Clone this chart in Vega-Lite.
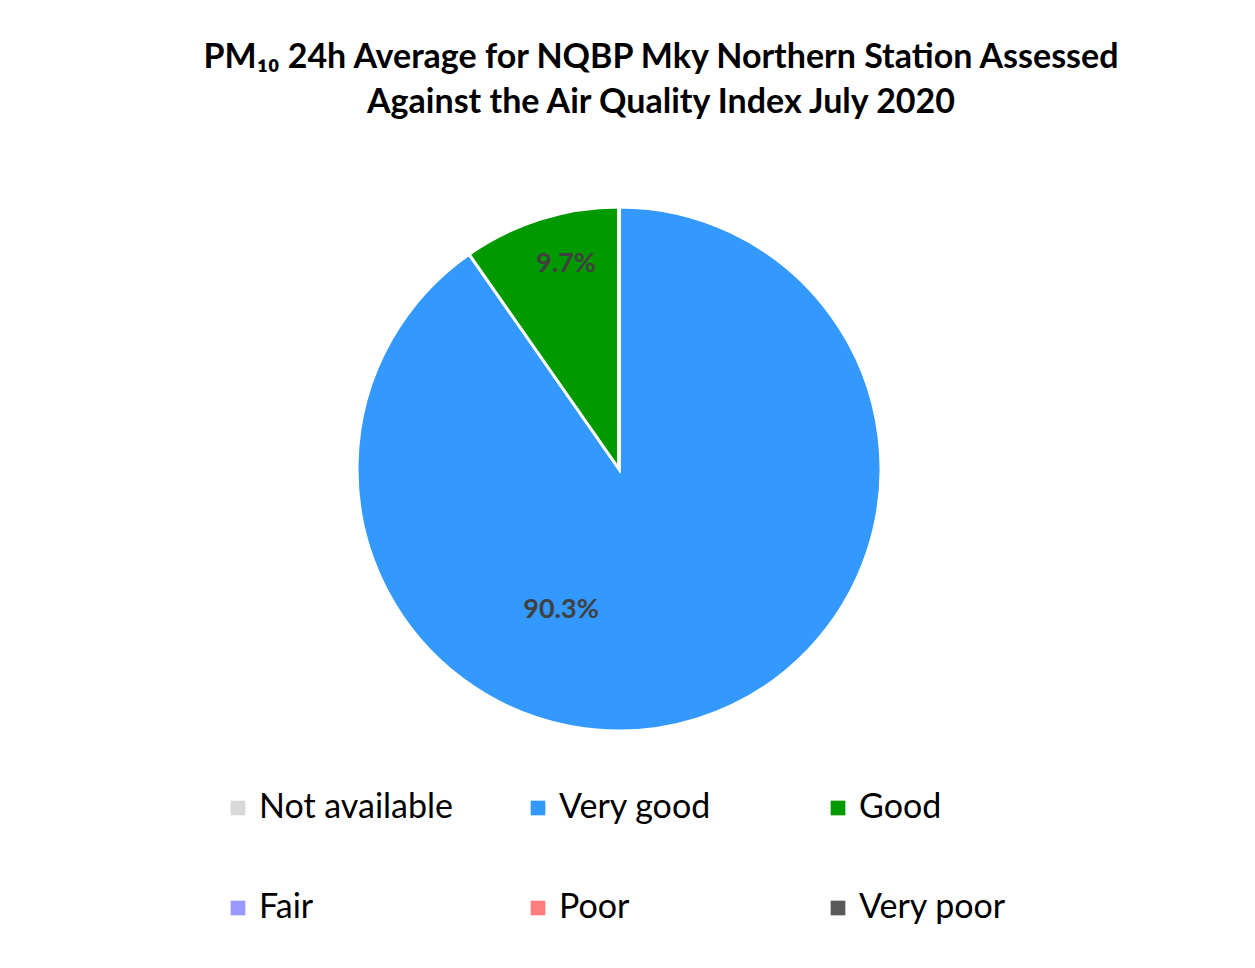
{
  "$schema": "https://vega.github.io/schema/vega-lite/v6.json",
  "width": 1238,
  "height": 678,
  "autosize": {"type": "none"},
  "padding": {"left": 0, "top": 130, "right": 17, "bottom": 160},
  "background": "white",
  "config": {"view": {"stroke": null}},
  "title": {
    "text": ["PM₁₀ 24h Average for NQBP Mky Northern Station Assessed", "Against the Air Quality Index July 2020"],
    "font": "Lato",
    "fontSize": 34,
    "fontWeight": "bold",
    "color": "black",
    "lineHeight": 45,
    "anchor": "middle",
    "dx": 42,
    "offset": 10
  },
  "data": {
    "values": [
      {"category": "Not available", "percent": 0, "rank": 1, "label": ""},
      {"category": "Very good", "percent": 90.3, "rank": 2, "label": "90.3%"},
      {"category": "Good", "percent": 9.7, "rank": 3, "label": "9.7%"},
      {"category": "Fair", "percent": 0, "rank": 4, "label": ""},
      {"category": "Poor", "percent": 0, "rank": 5, "label": ""},
      {"category": "Very poor", "percent": 0, "rank": 6, "label": ""}
    ]
  },
  "layer": [
    {
      "mark": {"type": "arc", "outerRadius": 262, "stroke": "white", "strokeWidth": 3},
      "encoding": {
        "theta": {"field": "percent", "type": "quantitative", "stack": true},
        "order": {"field": "rank", "type": "quantitative"},
        "color": {
          "field": "category",
          "type": "nominal",
          "scale": {
            "domain": ["Not available", "Very good", "Good", "Fair", "Poor", "Very poor"],
            "range": ["#d9d9d9", "#3399ff", "#009900", "#9999ff", "#ff7f7f", "#595959"]
          },
          "legend": {
            "orient": "none",
            "legendX": 221,
            "legendY": 661,
            "direction": "horizontal",
            "columns": 3,
            "title": null,
            "symbolType": "square",
            "symbolSize": 215,
            "symbolStrokeWidth": 0,
            "labelFont": "Lato",
            "labelFontSize": 34,
            "labelColor": "black",
            "labelLimit": 400,
            "labelOffset": 4,
            "columnPadding": 67,
            "rowPadding": 66,
            "gridAlign": "all",
            "padding": 0
          }
        }
      }
    },
    {
      "mark": {"type": "text", "radius": 152, "thetaOffset": 0.696, "font": "Lato", "fontWeight": "bold", "fontSize": 27, "color": "#404040"},
      "encoding": {
        "theta": {"field": "percent", "type": "quantitative", "stack": true},
        "order": {"field": "rank", "type": "quantitative"},
        "detail": {"field": "category", "type": "nominal"},
        "text": {"field": "label", "type": "nominal"},
        "opacity": {"condition": {"test": "datum.category === 'Very good'", "value": 1}, "value": 0}
      }
    },
    {
      "mark": {"type": "text", "radius": 212, "thetaOffset": 0.052, "font": "Lato", "fontWeight": "bold", "fontSize": 27, "color": "#404040"},
      "encoding": {
        "theta": {"field": "percent", "type": "quantitative", "stack": true},
        "order": {"field": "rank", "type": "quantitative"},
        "detail": {"field": "category", "type": "nominal"},
        "text": {"field": "label", "type": "nominal"},
        "opacity": {"condition": {"test": "datum.category === 'Good'", "value": 1}, "value": 0}
      }
    }
  ]
}
